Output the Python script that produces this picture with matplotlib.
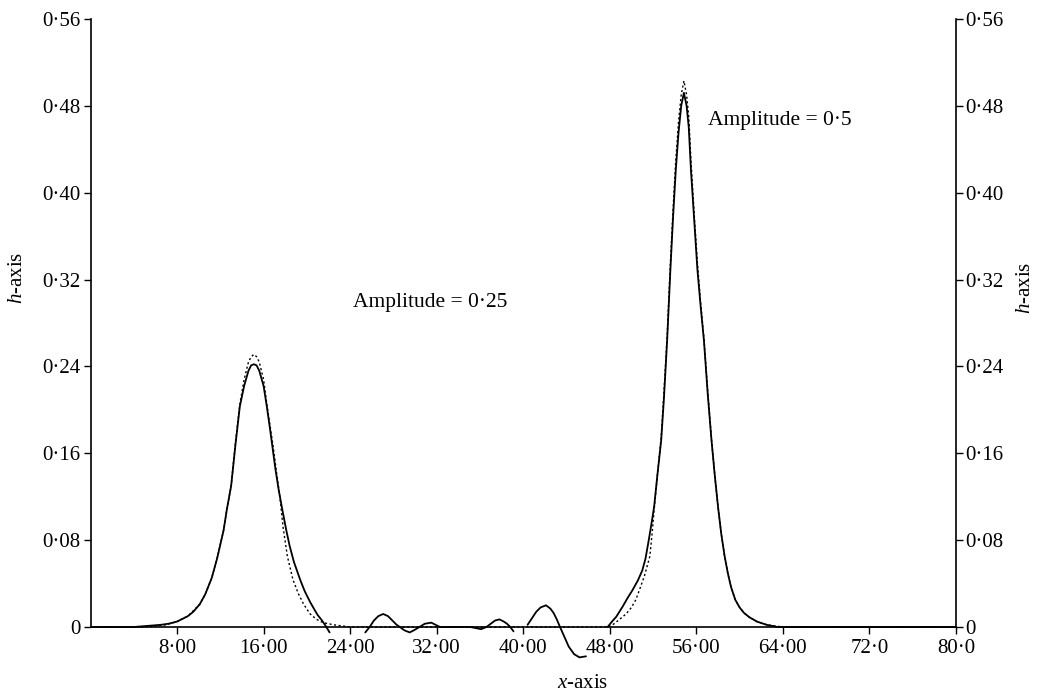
import numpy as np
import matplotlib
matplotlib.use("Agg")
import matplotlib.pyplot as plt

plt.rcParams['font.family'] = ['Liberation Serif', 'DejaVu Serif']
plt.rcParams['mathtext.fontset'] = 'custom'
plt.rcParams['mathtext.rm'] = 'Liberation Serif'
plt.rcParams['mathtext.it'] = 'Liberation Serif:italic'

# Numerical solution (solid), pen lifts marked by NaN
solid_x = [0, 4, 5.2, 6.5, 7.2, 8.0, 9.0, 9.5, 10.1, 10.6, 11.2, 11.7, 12.3, 12.6, 13.0,
           13.4, 13.8, 14.2, 14.6, 14.85, 15.1, 15.35, 15.6, 16.0, 16.3, 16.6, 16.9,
           17.1, 17.4, 17.75, 18.1, 18.4, 18.8, 19.4, 19.8, 20.3, 20.7, 21.0, 21.4,
           21.8, 22.1,
           np.nan,
           25.4, 25.8, 26.2, 26.6, 27.05, 27.5, 27.9, 28.3, 28.6, 29.0, 29.5, 29.9,
           30.4, 30.9, 31.5, 31.9, 32.3, 33.5, 35.1, 35.6, 36.1, 36.6, 37.0, 37.4,
           37.8, 38.2, 38.5, 38.8, 39.1,
           np.nan,
           40.4, 40.8, 41.2, 41.6, 42.1, 42.5, 42.8, 43.1, 43.4, 43.8, 44.2, 44.7,
           45.2, 45.8,
           np.nan,
           47.8, 48.2, 48.6, 49.2, 49.6, 50.1, 50.6, 51.0, 51.3, 51.6, 51.85, 52.1,
           52.4, 52.75, 53.0, 53.3, 53.6, 53.85, 54.1, 54.35, 54.6, 54.85, 55.1, 55.3,
           55.5, 55.8, 56.1, 56.4, 56.7, 57.05, 57.4, 57.7, 58.0, 58.3, 58.6, 58.9,
           59.2, 59.6, 60.0, 60.4, 60.9, 61.6, 62.5, 63.5, 70, 80]
solid_h = [0, 0, 0.001, 0.002, 0.003, 0.005, 0.010, 0.014, 0.021, 0.030, 0.045, 0.063,
           0.089, 0.108, 0.130, 0.168, 0.203, 0.222, 0.236, 0.241, 0.242, 0.241, 0.236,
           0.222, 0.203, 0.182, 0.160, 0.145, 0.126, 0.107, 0.089, 0.075, 0.060, 0.043,
           0.033, 0.023, 0.016, 0.011, 0.006, 0.0, -0.005,
           np.nan,
           -0.005, 0.0, 0.006, 0.010, 0.012, 0.010, 0.006, 0.002, 0.0, -0.003, -0.005,
           -0.003, 0.0, 0.003, 0.004, 0.002, 0.0, 0.0, 0.0, -0.001, -0.002, 0.0, 0.003,
           0.006, 0.007, 0.005, 0.003, 0.0, -0.004,
           np.nan,
           0.002, 0.008, 0.014, 0.018, 0.020, 0.017, 0.013, 0.007, 0.0, -0.009, -0.018,
           -0.025, -0.028, -0.027,
           np.nan,
           0.0, 0.005, 0.0095, 0.019, 0.026, 0.034, 0.043, 0.052, 0.063, 0.080, 0.095,
           0.111, 0.140, 0.172, 0.210, 0.264, 0.329, 0.378, 0.421, 0.455, 0.480, 0.492,
           0.480, 0.460, 0.421, 0.375, 0.329, 0.295, 0.264, 0.215, 0.172, 0.140, 0.111,
           0.086, 0.066, 0.050, 0.037, 0.025, 0.018, 0.013, 0.009, 0.005, 0.002, 0.0,
           0.0, 0.0]

# Exact solution (dotted)
exact_x = [0, 5, 7, 8, 9, 10.1, 10.6, 11.2, 11.7, 12.3, 12.6, 13.0, 13.4, 13.8, 14.2,
           14.6, 14.85, 15.1, 15.35, 15.6, 16.0, 16.3, 16.6, 16.9, 17.2, 17.5, 17.8,
           18.2, 18.7, 19.2, 19.7, 20.3, 20.9, 21.5, 22.5, 24,
           47.9, 48.4, 48.9, 49.5, 50.0, 50.4, 50.7, 51.2, 51.7, 51.9, 52.1, 52.4,
           52.75, 53.0, 53.3, 53.6, 53.85, 54.1, 54.35, 54.6, 54.85, 55.1, 55.3, 55.5,
           55.8, 56.1, 56.4, 56.7, 57.05, 57.4, 57.7, 58.0, 58.3, 58.6, 58.9, 59.2,
           59.6, 60.0, 60.4, 60.9, 61.6, 62.5, 64, 80]
exact_h = [0, 0, 0.002, 0.005, 0.010, 0.021, 0.030, 0.045, 0.063, 0.089, 0.108, 0.130,
           0.170, 0.205, 0.228, 0.244, 0.249, 0.251, 0.249, 0.244, 0.228, 0.205, 0.185,
           0.165, 0.142, 0.120, 0.092, 0.065, 0.044, 0.031, 0.021, 0.012, 0.007, 0.004,
           0.002, 0.0,
           0.0, 0.003, 0.007, 0.012, 0.018, 0.025, 0.033, 0.047, 0.065, 0.085, 0.108,
           0.140, 0.175, 0.215, 0.268, 0.335, 0.385, 0.430, 0.465, 0.490, 0.503, 0.490,
           0.470, 0.430, 0.380, 0.335, 0.298, 0.266, 0.217, 0.173, 0.140, 0.111, 0.086,
           0.066, 0.050, 0.037, 0.025, 0.018, 0.013, 0.009, 0.005, 0.002, 0.0, 0.0]

x_ticks = [8, 16, 24, 32, 40, 48, 56, 64, 72, 80]
x_ticklabels = ['8·00', '16·00', '24·00', '32·00', '40·00', '48·00', '56·00',
                '64·00', '72·0', '80·0']
y_ticks = [0, 0.08, 0.16, 0.24, 0.32, 0.40, 0.48, 0.56]
y_ticklabels = ['0', '0·08', '0·16', '0·24', '0·32', '0·40', '0·48', '0·56']

W, H = 1037, 694
fig = plt.figure(figsize=(W / 100, H / 100), dpi=100)
ylo, yhi = -0.05, 0.56
px_x0, px_x80 = 90.5, 956.0
px_y0, px_y56 = 627.0, 19.0
per_h = (px_y0 - px_y56) / 0.56
bottom_px = px_y0 - ylo * per_h
ax = fig.add_axes([px_x0 / W, 1 - bottom_px / H, (px_x80 - px_x0) / W,
                   (bottom_px - px_y56) / H])
ax.set_xlim(0, 80)
ax.set_ylim(ylo, yhi)

ax.plot(solid_x, solid_h, color='black', lw=1.3, solid_joinstyle='round',
        solid_capstyle='round')
ax.plot(exact_x, exact_h, color='black', lw=1.0, linestyle=(0, (1.5, 1.8)))

ax.spines['top'].set_visible(False)
ax.spines['bottom'].set_position(('data', 0))
ax.spines['left'].set_bounds(0, 0.56)
ax.spines['right'].set_bounds(0, 0.56)
for s in ['bottom', 'left', 'right']:
    ax.spines[s].set_linewidth(1.2)

fs = 15
ax.set_xticks(x_ticks)
ax.set_xticklabels(x_ticklabels, fontsize=fs)
ax.set_yticks(y_ticks)
ax.set_yticklabels(y_ticklabels, fontsize=fs)
ax.tick_params(axis='x', direction='out', length=5, width=1, pad=4)
ax.tick_params(axis='y', direction='out', length=5, width=1, pad=2,
               left=True, right=True, labelleft=True, labelright=True)

fig.text(17 / W, 1 - 278 / H, r'$h$-axis', rotation=90, ha='center', va='center',
         fontsize=fs)
fig.text(1026 / W, 1 - 288 / H, r'$h$-axis', rotation=90, ha='center', va='center',
         fontsize=fs)
fig.text(583 / W, 1 - 683 / H, r'$x$-axis', ha='center', va='center', fontsize=fs)

fig.text(353 / W, 1 - 302 / H, 'Amplitude = 0·25', ha='left', va='center',
         fontsize=fs + 0.5)
fig.text(708 / W, 1 - 121 / H, 'Amplitude = 0·5', ha='left', va='center',
         fontsize=fs + 0.5)

fig.savefig('out.png', dpi=100)
